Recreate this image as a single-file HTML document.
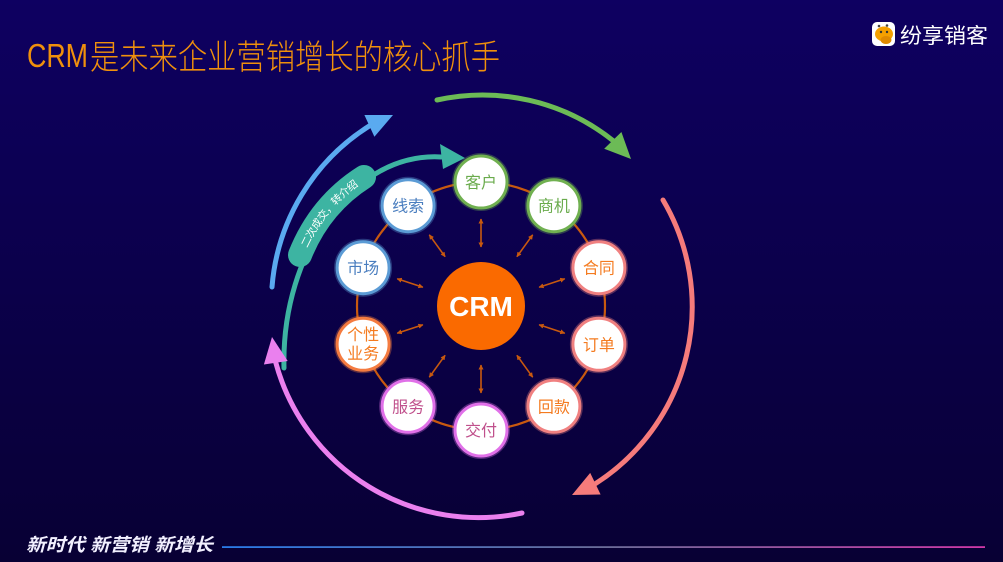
<!DOCTYPE html>
<html>
<head>
<meta charset="utf-8">
<style>
  html,body{margin:0;padding:0;background:#0b004a;}
  svg{display:block;}
  text{font-family:"Liberation Sans","Noto Sans CJK SC",sans-serif;}
</style>
</head>
<body>
<svg width="1003" height="562" viewBox="0 0 1003 562" xmlns="http://www.w3.org/2000/svg">
  <defs>
    <linearGradient id="bg" x1="0" y1="0" x2="0" y2="1">
      <stop offset="0" stop-color="#0e0061"/>
      <stop offset="1" stop-color="#080034"/>
    </linearGradient>
    <linearGradient id="fl" x1="0" y1="0" x2="1" y2="0">
      <stop offset="0" stop-color="#2a7ae8"/>
      <stop offset="0.5" stop-color="#6a6c98"/>
      <stop offset="1" stop-color="#d038a8"/>
    </linearGradient>
    <marker id="ah" viewBox="0 0 10 10" refX="9" refY="5" markerWidth="5" markerHeight="5" orient="auto-start-reverse" markerUnits="userSpaceOnUse">
      <path d="M0,0 L10,5 L0,10 z" fill="#c8590f"/>
    </marker>
    <path id="pillpath" d="M300,255 Q320,205 364,177"/>
  </defs>

  <rect x="0" y="0" width="1003" height="562" fill="url(#bg)"/>

  <!-- Title -->
  <text x="27" y="67" font-family="'DejaVu Sans','Liberation Sans',sans-serif" font-size="33" fill="#f0900c" font-weight="200" textLength="61" lengthAdjust="spacingAndGlyphs">CRM</text>
  <text x="90" y="69" font-size="34" fill="#f0900c" font-weight="300" textLength="410" lengthAdjust="spacingAndGlyphs">是未来企业营销增长的核心抓手</text>

  <!-- Logo -->
  <rect x="872" y="22" width="23" height="24" rx="5" fill="#ffffff"/>
  <ellipse cx="884" cy="34" rx="9" ry="7.5" fill="#f5a000"/>
  <ellipse cx="886" cy="40" rx="5.5" ry="4" fill="#e08a00"/>
  <circle cx="879" cy="26" r="1.3" fill="#444"/>
  <circle cx="887" cy="25.5" r="1.3" fill="#444"/>
  <circle cx="881" cy="32" r="1.2" fill="#333"/>
  <circle cx="887" cy="32" r="1.2" fill="#333"/>
  <text x="900" y="43" font-size="21" fill="#ffffff" textLength="88" lengthAdjust="spacingAndGlyphs">纷享销客</text>

  <!-- Outer arcs -->
  <path d="M437,100 A210,210 0 0,1 612.8,140.4" fill="none" stroke="#6cbb56" stroke-width="5" stroke-linecap="round"/>
  <polygon points="631,159 621.4,132 604.2,148.8" fill="#6cbb56"/>

  <path d="M663,200 A210,210 0 0,1 595.4,483.7" fill="none" stroke="#f67b7b" stroke-width="5" stroke-linecap="round"/>
  <polygon points="572,495 600.6,494.5 590.2,472.9" fill="#f67b7b"/>

  <!-- Teal spiral -->
  <path d="M284,368 C281,250 355,152 441,157" fill="none" stroke="#3db4a2" stroke-width="5" stroke-linecap="round"/>
  <polygon points="465,158 440,144 443,169" fill="#3db4a2"/>
  <path d="M300,255 Q320,205 364,177" fill="none" stroke="#3db4a2" stroke-width="24" stroke-linecap="round"/>
  <text font-size="10.5" fill="#ffffff" dy="4">
    <textPath href="#pillpath" startOffset="50%" text-anchor="middle">二次成交，转介绍</textPath>
  </text>

  <path d="M522,513 A210,210 0 0,1 275.8,362.7" fill="none" stroke="#ea80ee" stroke-width="5" stroke-linecap="round"/>
  <polygon points="272,337 287.7,361 263.9,364.5" fill="#ea80ee"/>

  <path d="M272,287 A210,210 0 0,1 369.4,125.9" fill="none" stroke="#5aaaf0" stroke-width="5" stroke-linecap="round"/>
  <polygon points="393,115 364.4,115 374.4,136.8" fill="#5aaaf0"/>

  <!-- Ring -->
  <circle cx="481" cy="306" r="124" fill="none" stroke="#c8590f" stroke-width="2.2"/>

  <!-- Radial double arrows -->
  <g stroke="#c8590f" stroke-width="1.6" marker-start="url(#ah)" marker-end="url(#ah)">
    <line x1="481" y1="247" x2="481" y2="219"/>
    <line x1="516.9" y1="256.7" x2="532.7" y2="234.8"/>
    <line x1="539.1" y1="287.2" x2="564.8" y2="278.8"/>
    <line x1="539.1" y1="324.8" x2="564.8" y2="333.2"/>
    <line x1="516.9" y1="355.3" x2="532.7" y2="377.2"/>
    <line x1="481" y1="365" x2="481" y2="393"/>
    <line x1="445.1" y1="355.3" x2="429.3" y2="377.2"/>
    <line x1="422.9" y1="324.8" x2="397.2" y2="333.2"/>
    <line x1="422.9" y1="287.2" x2="397.2" y2="278.8"/>
    <line x1="445.1" y1="256.7" x2="429.3" y2="234.8"/>
  </g>

  <!-- CRM center -->
  <circle cx="481" cy="306" r="44" fill="#fa6a00"/>
  <text x="481" y="316" font-size="28" font-weight="bold" fill="#ffffff" text-anchor="middle">CRM</text>

  <!-- Nodes -->
  <g font-size="16" text-anchor="middle">
    <circle cx="481" cy="182" r="26" fill="none" stroke="#70b050" stroke-width="6" stroke-opacity="0.35"/>
    <circle cx="481" cy="182" r="26" fill="#ffffff" stroke="#70b050" stroke-width="3"/>
    <text x="481" y="188" fill="#6aab4c">客户</text>

    <circle cx="553.9" cy="205.7" r="26" fill="none" stroke="#70b050" stroke-width="6" stroke-opacity="0.35"/>
    <circle cx="553.9" cy="205.7" r="26" fill="#ffffff" stroke="#70b050" stroke-width="3"/>
    <text x="553.9" y="211.7" fill="#6aab4c">商机</text>

    <circle cx="598.9" cy="267.7" r="26" fill="none" stroke="#f08080" stroke-width="6" stroke-opacity="0.35"/>
    <circle cx="598.9" cy="267.7" r="26" fill="#ffffff" stroke="#f08080" stroke-width="3"/>
    <text x="598.9" y="273.7" fill="#f47b20">合同</text>

    <circle cx="598.9" cy="344.3" r="26" fill="none" stroke="#f08080" stroke-width="6" stroke-opacity="0.35"/>
    <circle cx="598.9" cy="344.3" r="26" fill="#ffffff" stroke="#f08080" stroke-width="3"/>
    <text x="598.9" y="350.3" fill="#f47b20">订单</text>

    <circle cx="553.9" cy="406.3" r="26" fill="none" stroke="#f08080" stroke-width="6" stroke-opacity="0.35"/>
    <circle cx="553.9" cy="406.3" r="26" fill="#ffffff" stroke="#f08080" stroke-width="3"/>
    <text x="553.9" y="412.3" fill="#f47b20">回款</text>

    <circle cx="481" cy="430" r="26" fill="none" stroke="#e070e8" stroke-width="6" stroke-opacity="0.35"/>
    <circle cx="481" cy="430" r="26" fill="#ffffff" stroke="#e070e8" stroke-width="3"/>
    <text x="481" y="436" fill="#c0508c">交付</text>

    <circle cx="408.1" cy="406.3" r="26" fill="none" stroke="#e070e8" stroke-width="6" stroke-opacity="0.35"/>
    <circle cx="408.1" cy="406.3" r="26" fill="#ffffff" stroke="#e070e8" stroke-width="3"/>
    <text x="408.1" y="412.3" fill="#c0508c">服务</text>

    <circle cx="363.1" cy="344.3" r="26" fill="none" stroke="#f47b40" stroke-width="6" stroke-opacity="0.35"/>
    <circle cx="363.1" cy="344.3" r="26" fill="#ffffff" stroke="#f47b40" stroke-width="3"/>
    <text x="363.1" y="340" fill="#f47b20">个性</text>
    <text x="363.1" y="359" fill="#f47b20">业务</text>

    <circle cx="363.1" cy="267.7" r="26" fill="none" stroke="#5b9bd5" stroke-width="6" stroke-opacity="0.35"/>
    <circle cx="363.1" cy="267.7" r="26" fill="#ffffff" stroke="#5b9bd5" stroke-width="3"/>
    <text x="363.1" y="273.7" fill="#4a7ebf">市场</text>

    <circle cx="408.1" cy="205.7" r="26" fill="none" stroke="#5b9bd5" stroke-width="6" stroke-opacity="0.35"/>
    <circle cx="408.1" cy="205.7" r="26" fill="#ffffff" stroke="#5b9bd5" stroke-width="3"/>
    <text x="408.1" y="211.7" fill="#4a7ebf">线索</text>
  </g>

  <!-- Footer -->
  <text x="26" y="551" font-size="18" font-weight="bold" font-style="italic" fill="#f2f0ff" textLength="187" lengthAdjust="spacingAndGlyphs">新时代 新营销 新增长</text>
  <rect x="222" y="546.2" width="763" height="1.8" fill="url(#fl)"/>
</svg>
</body>
</html>
